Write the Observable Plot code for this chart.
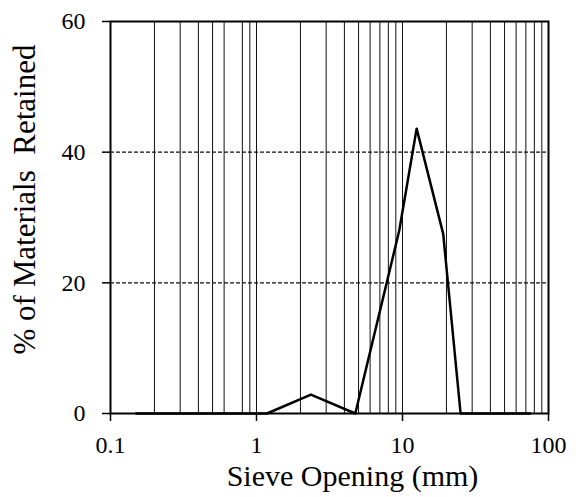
<!DOCTYPE html>
<html>
<head>
<meta charset="utf-8">
<script src="https://cdn.jsdelivr.net/npm/d3@7"></script>
<script src="https://cdn.jsdelivr.net/npm/@observablehq/plot@0.6"></script>
<style>
  html, body { margin: 0; padding: 0; background: white; }
</style>
</head>
<body>
<div id="chart"></div>
<script>
// Sieve openings (mm) and % of materials retained
const sieveSizes = [0.15, 0.3, 0.6, 1.18, 2.36, 4.75, 9.5, 12.5, 19, 25, 37.5, 50, 75];
const retained   = [0,    0,   0,   0,    2.9,  0,    28,  43.6, 27.5, 0, 0,   0,  0];

// Gridlines and ticks
const gridX = [0.2, 0.3, 0.4, 0.5, 0.6, 0.8, 0.9, 1, 2, 3, 4, 5, 6, 7, 8, 9, 10, 20, 30, 40, 50, 60, 70, 80, 90];
const gridY = [20, 40];
const xTicks = [0.1, 1, 10, 100];
const xTickLabels = ["0.1", "1", "10", "100"];
const yTicks = [0, 20, 40, 60];
const xLabel = "Sieve Opening (mm)";
const yLabel = "% of Materials\u00a0 Retained";

const data = sieveSizes.map((s, i) => ({size: s, pct: retained[i]}));

const chart = Plot.plot({
  width: 582,
  height: 497,
  marginLeft: 110,
  marginRight: 34,
  marginTop: 21,
  marginBottom: 84,
  style: {fontFamily: "'Liberation Serif', 'Times New Roman', serif", fontSize: "24px", color: "black", background: "white"},
  x: {type: "log", domain: [0.1, 100]},
  y: {domain: [0, 60]},
  marks: [
    Plot.ruleX(gridX, {stroke: "#111", strokeWidth: 1}),
    Plot.ruleY(gridY, {stroke: "#111", strokeWidth: 1.2, strokeDasharray: "4,2"}),
    Plot.axisX({ticks: xTicks, tickFormat: d => xTickLabels[xTicks.indexOf(d)], tickSize: 8, tickPadding: 14, strokeWidth: 1.5, label: null, fontSize: 24}),
    Plot.axisY({ticks: yTicks, tickSize: 8, tickPadding: 17, strokeWidth: 1.5, label: null, fontSize: 24}),
    Plot.line(data, {x: "size", y: "pct", stroke: "black", strokeWidth: 2.5}),
    Plot.frame({stroke: "black", strokeWidth: 2}),
    Plot.text([xLabel], {frameAnchor: "bottom", textAnchor: "middle", dx: 23, dy: 72, lineAnchor: "bottom", fontSize: 30}),
    Plot.text([yLabel], {frameAnchor: "left", textAnchor: "middle", lineAnchor: "middle", rotate: -90, dx: -85, dy: -18, fontSize: 31})
  ]
});
document.getElementById("chart").appendChild(chart);
</script>
</body>
</html>
